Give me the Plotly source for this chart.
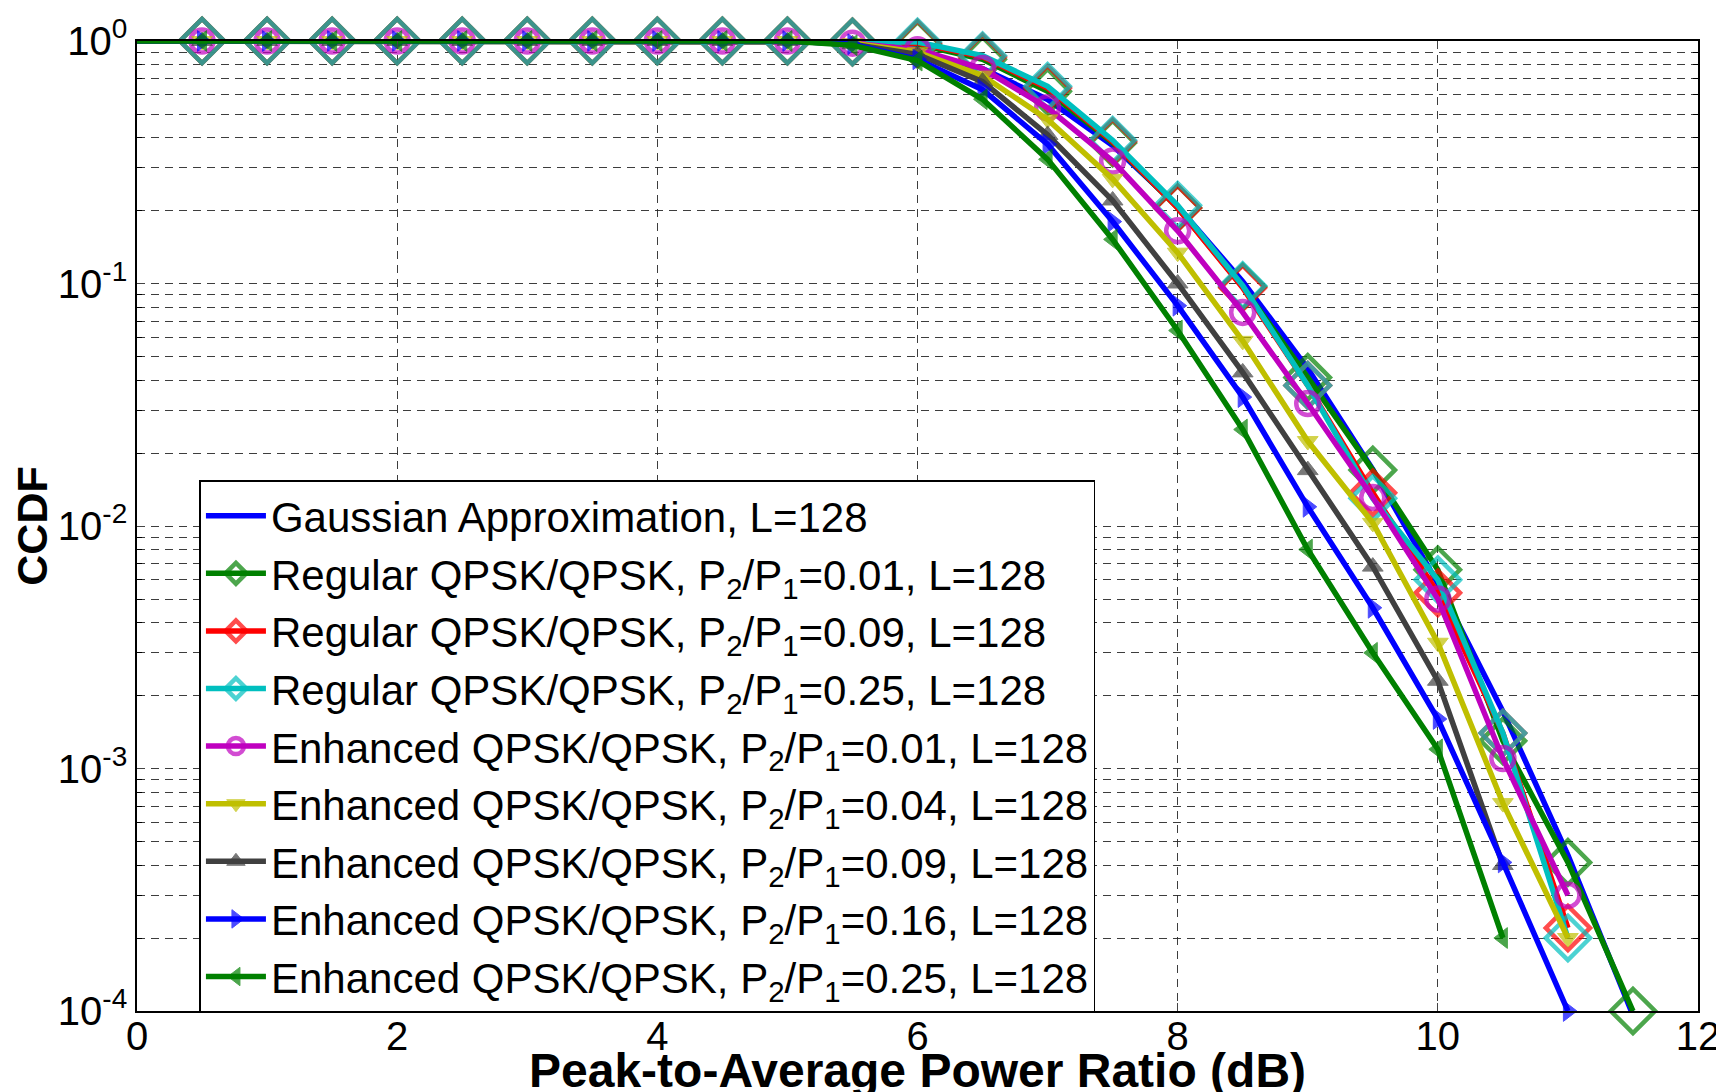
import plotly.graph_objects as go

# PAPR in dB
X = [0, 0.5, 1.0, 1.5, 2.0, 2.5, 3.0, 3.5, 4.0, 4.5, 5.0, 5.5,
     6.0, 6.5, 7.0, 7.5, 8.0, 8.5, 9.0, 9.5, 10.0, 10.5, 11.0, 11.5]

gauss = [1, 1, 1, 1, 1, 1, 1, 1, 1, 1, 1, 0.975,
         0.908, 0.77, 0.574, 0.371, 0.208, 0.102, 0.0446, 0.0171, 0.0058, 0.00172, 4.4e-4, 9.6e-5]
reg_001 = [1, 1, 1, 1, 1, 1, 1, 1, 1, 1, 1, 0.99,
           0.97, 0.84, 0.62, 0.38, 0.205, 0.097, 0.041, 0.017, 0.0066, 0.0013, 4.1e-4, 1.0e-4]
reg_009 = [1, 1, 1, 1, 1, 1, 1, 1, 1, 1, 1, 0.99,
           0.98, 0.86, 0.64, 0.385, 0.205, 0.096, 0.038, 0.0137, 0.0053, 0.0014, 2.2e-4]
reg_025 = [1, 1, 1, 1, 1, 1, 1, 1, 1, 1, 1, 0.99,
           0.99, 0.87, 0.65, 0.39, 0.21, 0.098, 0.038, 0.013, 0.006, 0.0014, 2.0e-4]
enh_001 = [1, 1, 1, 1, 1, 1, 1, 1, 1, 1, 1, 0.98,
           0.92, 0.77, 0.53, 0.32, 0.165, 0.076, 0.032, 0.0131, 0.0050, 0.0011, 3.0e-4]
enh_004 = [1, 1, 1, 1, 1, 1, 1, 1, 1, 1, 1, 0.98,
           0.90, 0.72, 0.475, 0.27, 0.134, 0.058, 0.0224, 0.0103, 0.0033, 7.2e-4, 2.0e-4]
enh_009 = [1, 1, 1, 1, 1, 1, 1, 1, 1, 1, 1, 0.97,
           0.88, 0.68, 0.41, 0.22, 0.10, 0.043, 0.017, 0.0068, 0.0023, 4.0e-4]
enh_016 = [1, 1, 1, 1, 1, 1, 1, 1, 1, 1, 1, 0.97,
           0.84, 0.63, 0.375, 0.18, 0.081, 0.034, 0.012, 0.0046, 0.0016, 4.1e-4, 1.0e-4]
enh_025 = [1, 1, 1, 1, 1, 1, 1, 1, 1, 1, 1, 0.96,
           0.83, 0.575, 0.325, 0.152, 0.064, 0.025, 0.008, 0.0030, 0.0012, 2.0e-4]

x_ticks = [0, 2, 4, 6, 8, 10, 12]
y_ticks = [1e-4, 1e-3, 1e-2, 1e-1, 1]
y_ticklabels = ["10<sup>-4</sup>", "10<sup>-3</sup>", "10<sup>-2</sup>", "10<sup>-1</sup>", "10<sup>0</sup>"]

SUB = "P<sub>2</sub>/P<sub>1</sub>"
series = [
    ("Gaussian Approximation, L=128", gauss, "#0000FF", None, 0),
    (f"Regular QPSK/QPSK, {SUB}=0.01, L=128", reg_001, "#008000", "diamond-open", 34),
    (f"Regular QPSK/QPSK, {SUB}=0.09, L=128", reg_009, "#FF0000", "diamond-open", 34),
    (f"Regular QPSK/QPSK, {SUB}=0.25, L=128", reg_025, "#00BFBF", "diamond-open", 34),
    (f"Enhanced QPSK/QPSK, {SUB}=0.01, L=128", enh_001, "#BF00BF", "circle-open", 23),
    (f"Enhanced QPSK/QPSK, {SUB}=0.04, L=128", enh_004, "#BFBF00", "triangle-down", 18),
    (f"Enhanced QPSK/QPSK, {SUB}=0.09, L=128", enh_009, "#404040", "triangle-up", 18),
    (f"Enhanced QPSK/QPSK, {SUB}=0.16, L=128", enh_016, "#0000FF", "triangle-right", 18),
    (f"Enhanced QPSK/QPSK, {SUB}=0.25, L=128", enh_025, "#008000", "triangle-left", 18),
]

fig = go.Figure()
for name, ys, color, symbol, size in series:
    xs = X[:len(ys)]
    if symbol is None:
        fig.add_trace(go.Scatter(x=xs, y=ys, name=name, mode="lines",
                                 line=dict(color=color, width=5.5), cliponaxis=False))
    else:
        # no marker at x = 0, the curves start at the axis
        sizes = [0] + [size] * (len(ys) - 1)
        fig.add_trace(go.Scatter(
            x=xs, y=ys, name=name, mode="lines+markers",
            line=dict(color=color, width=5.5),
            marker=dict(symbol=symbol, size=sizes, color=color,
                        line=dict(color=color, width=4.5 if "open" in symbol else 1)),
            cliponaxis=False,
        ))

grid = dict(showgrid=True, gridcolor="rgba(40,40,40,0.9)", gridwidth=1, griddash="8px,6px")

# the page body adds an 8px offset, so the figure is 8px smaller than the window
fig.update_layout(
    width=1716, height=1084,
    paper_bgcolor="white", plot_bgcolor="white",
    font=dict(family="Liberation Sans, Arial, sans-serif", color="black", size=40),
    margin=dict(l=129, r=26, t=33, b=81),
    legend=dict(
        x=0.040, y=0.547, xanchor="left", yanchor="top",
        bgcolor="white", bordercolor="black", borderwidth=1.5,
        font=dict(size=42), itemwidth=60, tracegroupgap=0,
    ),
    showlegend=True,
)
fig.add_annotation(
    text="<b>Peak-to-Average Power Ratio (dB)</b>", font=dict(size=48),
    xref="paper", yref="paper", x=0.5, y=-0.061, xanchor="center", yanchor="middle",
    showarrow=False,
)
fig.update_xaxes(
    range=[0, 12], tickvals=x_ticks, ticks="inside", ticklen=8,
    showline=True, linecolor="black", linewidth=1.5, mirror="ticks",
    zeroline=False, tickfont=dict(size=40), automargin=False, ticklabelstandoff=-11,
    **grid,
)
fig.update_yaxes(
    type="log", range=[-4, 0], tickvals=y_ticks, ticktext=y_ticklabels,
    ticks="inside", ticklen=8,
    showline=True, linecolor="black", linewidth=1.5, mirror="ticks",
    zeroline=False, tickfont=dict(size=40), automargin=False,
    title=dict(text="<b>CCDF</b>", font=dict(size=43), standoff=0),
    minor=dict(tickvals=[m * 10 ** e for e in range(-4, 0) for m in range(2, 10)],
               ticks="inside", ticklen=5, tickcolor="black",
               showgrid=True, gridcolor="rgba(40,40,40,0.9)", griddash="8px,6px"),
    **grid,
)

fig.write_html("out.html")
